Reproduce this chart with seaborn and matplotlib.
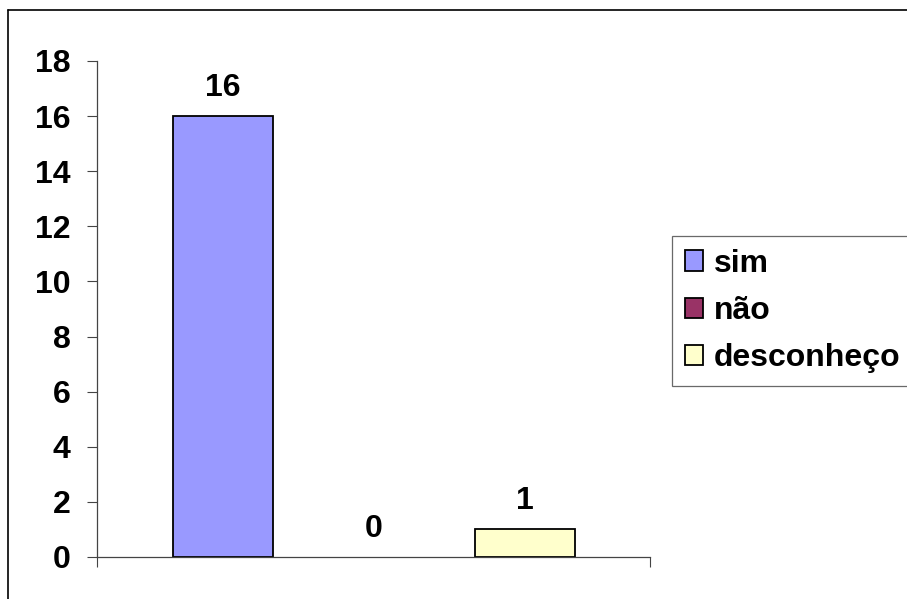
import matplotlib
matplotlib.use("Agg")
import matplotlib.pyplot as plt
import matplotlib.patches as mpatches
from matplotlib.lines import Line2D
import seaborn as sns
import pandas as pd

categorias = ["sim", "não", "desconheço"]
valores = [16, 0, 1]
cores = ["#9999FF", "#993366", "#FFFFCC"]

sns.set_theme(style="white")
plt.rcParams["font.family"] = ["Liberation Sans", "DejaVu Sans"]
plt.rcParams["font.weight"] = "bold"
plt.rcParams["text.color"] = "black"
plt.rcParams["xtick.color"] = "black"
plt.rcParams["ytick.color"] = "black"

df = pd.DataFrame({"resposta": categorias, "n": valores})

fig = plt.figure(figsize=(9.07, 5.99), dpi=100)
ax = fig.add_axes([97 / 907, 42 / 599, 553 / 907, 496 / 599])

sns.barplot(data=df, x="resposta", y="n", hue="resposta", palette=cores,
            saturation=1, width=0.662, edgecolor="black", linewidth=1.3,
            legend=False, ax=ax)

for cont in ax.containers:
    for p in cont:
        if p.get_height() == 0:
            p.set_linewidth(0)
    ax.bar_label(cont, padding=9.5, fontsize=23, fontweight="bold", color="black")

ax.set_ylim(0, 18)
ax.set_yticks(range(0, 19, 2))
xl = (-0.834, 2.828)
ax.set_xlim(*xl)
ax.set_xticks(list(xl))
ax.set_xticklabels(["", ""])
ax.set_xlabel("")
ax.set_ylabel("")
ax.tick_params(axis="y", direction="out", length=7, width=0.8, color="#444444",
               labelsize=23, pad=12, left=True, labelcolor="black")
ax.tick_params(axis="x", direction="out", length=7, width=0.8, color="#444444",
               bottom=True)
for lab in ax.get_yticklabels():
    lab.set_fontweight("bold")
sns.despine(ax=ax)
for s in ["left", "bottom"]:
    ax.spines[s].set_color("#444444")
    ax.spines[s].set_linewidth(0.9)

handles = [mpatches.Patch(facecolor=c, edgecolor="black", linewidth=1.3, label=l)
           for c, l in zip(cores, categorias)]
leg = fig.legend(handles=handles, loc="upper left",
                 bbox_to_anchor=(672 / 907, 1 - 236 / 599),
                 prop={"size": 23, "weight": "bold"}, frameon=True, fancybox=False,
                 handlelength=0.58, handleheight=0.6, handletextpad=0.33,
                 labelspacing=0.54, borderpad=0.4, borderaxespad=0)
leg.get_frame().set_edgecolor("#444444")
leg.get_frame().set_linewidth(0.9)

# moldura da figura
fig.add_artist(Line2D([8 / 907, 1.0], [1 - 10 / 599, 1 - 10 / 599],
                      transform=fig.transFigure, color="black", linewidth=1.2))
fig.add_artist(Line2D([8 / 907, 8 / 907], [0.0, 1 - 10 / 599],
                      transform=fig.transFigure, color="black", linewidth=1.2))

fig.savefig("out.png", dpi=100)
